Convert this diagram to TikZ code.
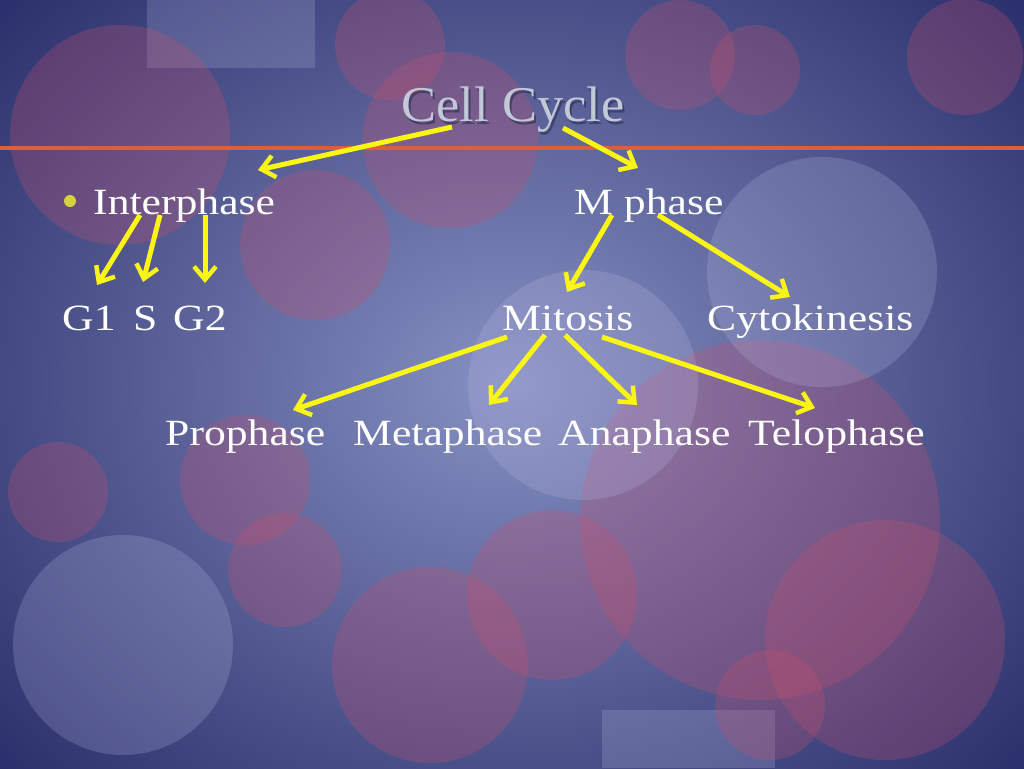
\documentclass[tikz,border=0pt]{standalone}
\usepackage{fontspec}
\setmainfont{Liberation Serif}
\usetikzlibrary{arrows.meta}
\definecolor{ylw}{RGB}{250,245,20}
\definecolor{redc}{RGB}{200,80,110}
\definecolor{ltc}{RGB}{190,190,230}
\definecolor{bgin}{RGB}{135,145,195}
\definecolor{bgout}{RGB}{40,45,105}
\definecolor{orl}{RGB}{220,95,60}
\definecolor{shd}{RGB}{40,45,80}
\definecolor{ttl}{RGB}{195,200,215}
\definecolor{bul}{RGB}{215,210,60}
\begin{document}
\begin{tikzpicture}[x=1pt,y=-1pt,
  lbl/.style={text=white,font=\fontsize{37}{37}\selectfont,inner sep=0pt,anchor=base west,xscale=1.18},
  arr/.style={draw=ylw,line width=5pt,-{Straight Barb[length=13pt,width=22pt,line width=4.5pt]}},
  rc/.style={fill=redc,opacity=0.28},
  lc/.style={fill=ltc,opacity=0.22}]
\useasboundingbox (0,0) rectangle (1024,768);
\shade[inner color=bgin,outer color=bgout] (-200,-200) rectangle (1224,968);
\fill[lc] (147,0) rectangle (315,68);
\fill[lc] (602,710) rectangle (775,768);
\foreach \x/\y/\r in {120/135/110,450/140/88,315/245/75,760/520/180,58/492/50,245/480/65,285/570/57,430/665/98,552/595/85,885/640/120,770/705/55,965/57/58,390/45/55,755/70/45,680/55/55}
  \fill[rc] (\x,\y) circle (\r);
\foreach \x/\y/\r in {822/272/115,583/385/115,123/645/110}
  \fill[lc] (\x,\y) circle (\r);
\draw[orl,line width=4pt] (0,148) -- (1024,148);
\node[text=shd,font=\fontsize{50}{50}\selectfont,opacity=0.6,xscale=1.05] at (515,113) {Cell Cycle};
\node (title) [text=ttl,font=\fontsize{50}{50}\selectfont,xscale=1.05] at (513,110) {Cell Cycle};
\fill[bul] (70,201) circle (6);
\node (inter) [lbl] at (93,214) {Interphase};
\node (mph) [lbl] at (574,214) {M phase};
\node (g1) [lbl] at (62,330) {G1};
\node (s) [lbl] at (133,330) {S};
\node (g2) [lbl] at (173,330) {G2};
\node (mit) [lbl] at (502,330) {Mitosis};
\node (cyt) [lbl] at (707,330) {Cytokinesis};
\node (pro) [lbl] at (165,445) {Prophase};
\node (met) [lbl] at (353,445) {Metaphase};
\node (ana) [lbl] at (558,445) {Anaphase};
\node (tel) [lbl] at (748,445) {Telophase};
\foreach \n/\a/\b/\c/\d in {a/452/127/258/170,b/563/128/638/168,c/140/215/97/285,d/160/215/143/282,e/205/215/205/283,f/612/215/567/292,g/658/215/790/297,h/507/337/293/410,i/545/335/489/405,j/565/335/637/405,k/602/337/815/408}
{
  \coordinate (s\n) at (\a,\b);
  \coordinate (t\n) at (\c,\d);
  \draw[arr] (s\n) -- (t\n);
}
\end{tikzpicture}
\end{document}
